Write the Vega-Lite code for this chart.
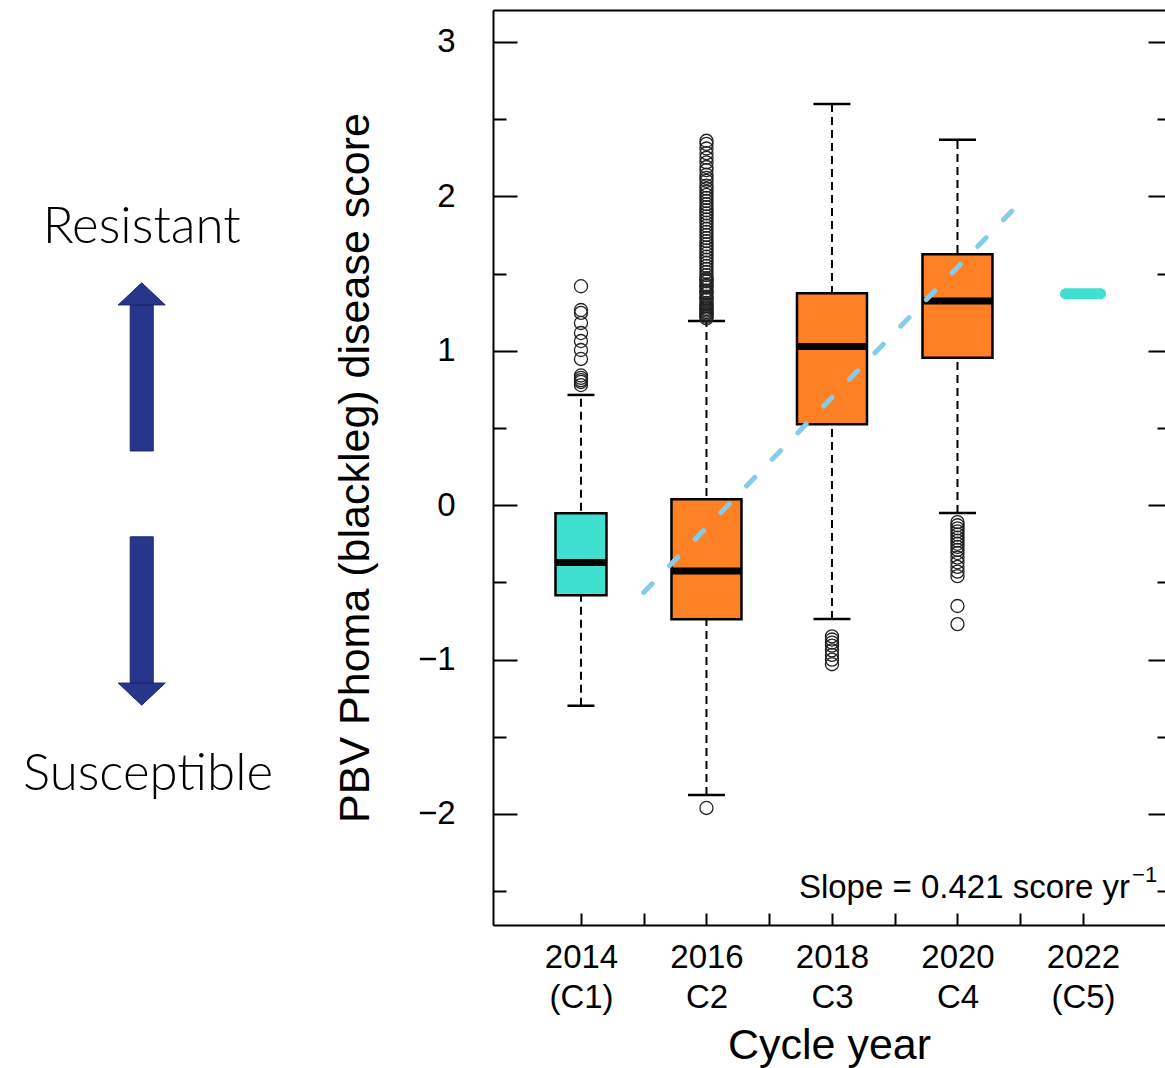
{
  "$schema": "https://vega.github.io/schema/vega-lite/v6.json",
  "width": 672,
  "height": 915,
  "autosize": {"type": "none"},
  "padding": {"left": 493, "top": 10, "right": 0, "bottom": 143},
  "background": "white",
  "config": {"font": "Liberation Sans", "view": {"stroke": null}, "scale": {"continuousPadding": 0}},
  "datasets": {
    "boxes": [
      {"year": 2014, "cycle": "(C1)", "group": "Reference", "lower": -1.299, "q1": -0.584, "median": -0.372, "q3": -0.052, "upper": 0.714},
      {"year": 2016, "cycle": "C2", "group": "Selection", "lower": -1.877, "q1": -0.739, "median": -0.427, "q3": 0.038, "upper": 1.193},
      {"year": 2018, "cycle": "C3", "group": "Selection", "lower": -0.737, "q1": 0.524, "median": 1.027, "q3": 1.372, "upper": 2.598},
      {"year": 2020, "cycle": "C4", "group": "Selection", "lower": -0.05, "q1": 0.955, "median": 1.322, "q3": 1.625, "upper": 2.367}
    ],
    "outliers": [
      {"year": 2014, "score": 1.418}, {"year": 2014, "score": 1.264}, {"year": 2014, "score": 1.245}, {"year": 2014, "score": 1.18},
      {"year": 2014, "score": 1.115}, {"year": 2014, "score": 1.063}, {"year": 2014, "score": 1.005}, {"year": 2014, "score": 0.947},
      {"year": 2014, "score": 0.84}, {"year": 2014, "score": 0.824}, {"year": 2014, "score": 0.81}, {"year": 2014, "score": 0.798}, {"year": 2014, "score": 0.778},
      {"year": 2016, "score": 2.36}, {"year": 2016, "score": 2.34}, {"year": 2016, "score": 2.31}, {"year": 2016, "score": 2.28},
      {"year": 2016, "score": 2.25}, {"year": 2016, "score": 2.22}, {"year": 2016, "score": 2.19}, {"year": 2016, "score": 2.17},
      {"year": 2016, "score": 2.14}, {"year": 2016, "score": 2.12}, {"year": 2016, "score": 2.1}, {"year": 2016, "score": 2.07},
      {"year": 2016, "score": 2.05}, {"year": 2016, "score": 2.03}, {"year": 2016, "score": 2.01}, {"year": 2016, "score": 1.99},
      {"year": 2016, "score": 1.97}, {"year": 2016, "score": 1.95}, {"year": 2016, "score": 1.93}, {"year": 2016, "score": 1.91},
      {"year": 2016, "score": 1.89}, {"year": 2016, "score": 1.87}, {"year": 2016, "score": 1.85}, {"year": 2016, "score": 1.83},
      {"year": 2016, "score": 1.81}, {"year": 2016, "score": 1.79}, {"year": 2016, "score": 1.77}, {"year": 2016, "score": 1.75},
      {"year": 2016, "score": 1.73}, {"year": 2016, "score": 1.71}, {"year": 2016, "score": 1.69}, {"year": 2016, "score": 1.67},
      {"year": 2016, "score": 1.65}, {"year": 2016, "score": 1.63}, {"year": 2016, "score": 1.61}, {"year": 2016, "score": 1.59},
      {"year": 2016, "score": 1.57}, {"year": 2016, "score": 1.55}, {"year": 2016, "score": 1.53}, {"year": 2016, "score": 1.51},
      {"year": 2016, "score": 1.49}, {"year": 2016, "score": 1.47}, {"year": 2016, "score": 1.45}, {"year": 2016, "score": 1.43},
      {"year": 2016, "score": 1.41}, {"year": 2016, "score": 1.39}, {"year": 2016, "score": 1.37}, {"year": 2016, "score": 1.35},
      {"year": 2016, "score": 1.33}, {"year": 2016, "score": 1.31}, {"year": 2016, "score": 1.29}, {"year": 2016, "score": 1.27},
      {"year": 2016, "score": 1.25}, {"year": 2016, "score": 1.23}, {"year": 2016, "score": 1.21}, {"year": 2016, "score": 1.22},
      {"year": 2016, "score": 1.24}, {"year": 2016, "score": 1.26}, {"year": 2016, "score": 1.28}, {"year": 2016, "score": 1.3},
      {"year": 2016, "score": 1.34}, {"year": 2016, "score": 1.38}, {"year": 2016, "score": 1.42}, {"year": 2016, "score": 1.46},
      {"year": 2016, "score": -1.961},
      {"year": 2018, "score": -0.85}, {"year": 2018, "score": -0.87}, {"year": 2018, "score": -0.89}, {"year": 2018, "score": -0.91},
      {"year": 2018, "score": -0.94}, {"year": 2018, "score": -0.97}, {"year": 2018, "score": -1.0}, {"year": 2018, "score": -1.03},
      {"year": 2020, "score": -0.11}, {"year": 2020, "score": -0.13}, {"year": 2020, "score": -0.15}, {"year": 2020, "score": -0.17},
      {"year": 2020, "score": -0.19}, {"year": 2020, "score": -0.21}, {"year": 2020, "score": -0.23}, {"year": 2020, "score": -0.25},
      {"year": 2020, "score": -0.27}, {"year": 2020, "score": -0.29}, {"year": 2020, "score": -0.31}, {"year": 2020, "score": -0.34},
      {"year": 2020, "score": -0.37}, {"year": 2020, "score": -0.4}, {"year": 2020, "score": -0.43}, {"year": 2020, "score": -0.46},
      {"year": 2020, "score": -0.653}, {"year": 2020, "score": -0.77}
    ],
    "trend": [
      {"year": 2015, "score": -0.565},
      {"year": 2021, "score": 1.961}
    ],
    "c5": [
      {"year": 2022, "cycle": "(C5)", "group": "Reference", "score": 1.37}
    ],
    "arrows": [
      {"dir": "up", "x": 2007, "base": 0.351, "head": 1.297},
      {"dir": "down", "x": 2007, "base": -0.205, "head": -1.152}
    ],
    "labels": [
      {"label": "Resistant", "x": 2007.0, "y": 1.795},
      {"label": "Susceptible", "x": 2007.1, "y": -1.747}
    ],
    "note": [
      {"text": "Slope = 0.421 score yr", "sup": "−1", "x": 2022.75, "y": -2.544}
    ]
  },
  "resolve": {"axis": {"x": "independent", "y": "independent"}},
  "layer": [
    {
      "data": {"name": "arrows"},
      "mark": {"type": "bar", "orient": "vertical", "color": "#27368A", "stroke": "#1B2670", "strokeWidth": 1, "opacity": 1},
      "encoding": {
        "x": {"field": "x", "type": "quantitative", "scale": {"domain": [2012.598, 2023.307], "nice": false, "zero": false, "padding": 0}, "axis": null},
        "y": {"field": "base", "type": "quantitative", "scale": {"domain": [-2.719, 3.207], "nice": false, "zero": false, "padding": 0}, "axis": null},
        "y2": {"field": "head"},
        "size": {"value": 23}
      }
    },
    {
      "data": {"name": "arrows"},
      "mark": {"type": "point", "filled": true, "color": "#27368A", "stroke": "#1B2670", "strokeWidth": 1, "opacity": 1},
      "encoding": {
        "x": {"field": "x", "type": "quantitative", "scale": {"domain": [2012.598, 2023.307], "nice": false, "zero": false, "padding": 0}, "axis": null},
        "y": {"field": "head", "type": "quantitative", "scale": {"domain": [-2.719, 3.207], "nice": false, "zero": false, "padding": 0}, "axis": null},
        "shape": {"field": "dir", "type": "nominal", "scale": {"domain": ["up", "down"], "range": ["M-1,0L1,0L0,-0.94Z", "M-1,0L1,0L0,0.94Z"]}, "legend": null},
        "size": {"value": 2209}
      }
    },
    {
      "data": {"name": "labels"},
      "mark": {"type": "text", "font": "Lato", "fontWeight": 300, "fontSize": 51, "color": "black", "align": "center", "baseline": "middle"},
      "encoding": {
        "x": {"field": "x", "type": "quantitative", "scale": {"domain": [2012.598, 2023.307], "nice": false, "zero": false, "padding": 0}, "axis": null},
        "y": {"field": "y", "type": "quantitative", "scale": {"domain": [-2.719, 3.207], "nice": false, "zero": false, "padding": 0}, "axis": null},
        "text": {"field": "label"}
      }
    },
    {
      "data": {"name": "boxes"},
      "mark": {"type": "rule", "strokeDash": [8, 5], "strokeWidth": 2, "color": "black", "opacity": 1},
      "encoding": {
        "x": {"field": "year", "type": "quantitative", "scale": {"domain": [2012.598, 2023.307], "nice": false, "zero": false, "padding": 0}, "axis": null},
        "y": {"field": "lower", "type": "quantitative", "scale": {"domain": [-2.719, 3.207], "nice": false, "zero": false, "padding": 0}, "axis": null},
        "y2": {"field": "upper"}
      }
    },
    {
      "data": {"name": "boxes"},
      "mark": {"type": "tick", "orient": "horizontal", "thickness": 2.5, "color": "black", "opacity": 1},
      "encoding": {
        "x": {"field": "year", "type": "quantitative", "scale": {"domain": [2012.598, 2023.307], "nice": false, "zero": false, "padding": 0}, "axis": null},
        "y": {"field": "lower", "type": "quantitative", "scale": {"domain": [-2.719, 3.207], "nice": false, "zero": false, "padding": 0}, "axis": null},
        "size": {"condition": {"test": "datum.year === 2014", "value": 27}, "value": 37}
      }
    },
    {
      "data": {"name": "boxes"},
      "mark": {"type": "tick", "orient": "horizontal", "thickness": 2.5, "color": "black", "opacity": 1},
      "encoding": {
        "x": {"field": "year", "type": "quantitative", "scale": {"domain": [2012.598, 2023.307], "nice": false, "zero": false, "padding": 0}, "axis": null},
        "y": {"field": "upper", "type": "quantitative", "scale": {"domain": [-2.719, 3.207], "nice": false, "zero": false, "padding": 0}, "axis": null},
        "size": {"condition": {"test": "datum.year === 2014", "value": 27}, "value": 37}
      }
    },
    {
      "data": {"name": "boxes"},
      "mark": {"type": "bar", "orient": "vertical", "stroke": "black", "strokeWidth": 2.5, "opacity": 1},
      "encoding": {
        "x": {
          "field": "year", "type": "quantitative",
          "scale": {"domain": [2012.598, 2023.307], "nice": false, "zero": false, "padding": 0},
          "axis": {
            "orient": "bottom",
            "values": [2014, 2015, 2016, 2017, 2018, 2019, 2020, 2021, 2022],
            "grid": false,
            "domain": true, "domainColor": "black", "domainWidth": 2,
            "ticks": true, "tickSize": -12, "tickWidth": 2, "tickColor": "black",
            "labelExpr": "datum.value === 2014 ? ['2014','(C1)'] : datum.value === 2016 ? ['2016','C2'] : datum.value === 2018 ? ['2018','C3'] : datum.value === 2020 ? ['2020','C4'] : datum.value === 2022 ? ['2022','(C5)'] : ''",
            "labelFont": "Liberation Sans", "labelFontSize": 33, "labelColor": "black",
            "labelLineHeight": 40, "labelPadding": 28, "labelFlush": false, "labelOverlap": false,
            "title": "Cycle year", "titleFont": "Liberation Sans", "titleFontSize": 43,
            "titleFontWeight": "normal", "titleColor": "black", "titlePadding": 10
          }
        },
        "y": {
          "field": "q1", "type": "quantitative",
          "scale": {"domain": [-2.719, 3.207], "nice": false, "zero": false, "padding": 0},
          "axis": {
            "orient": "left",
            "values": [-2.5, -2, -1.5, -1, -0.5, 0, 0.5, 1, 1.5, 2, 2.5, 3],
            "grid": false,
            "domain": true, "domainColor": "black", "domainWidth": 2,
            "ticks": true, "tickWidth": 2, "tickColor": "black",
            "tickSize": {"condition": {"test": "datum.value % 1 === 0", "value": -24}, "value": -13},
            "labelExpr": "datum.value % 1 === 0 ? format(datum.value, 'd') : ''",
            "labelFont": "Liberation Sans", "labelFontSize": 33, "labelColor": "black",
            "labelPadding": 62, "labelFlush": false, "labelOverlap": false,
            "title": "PBV Phoma (blackleg) disease score", "titleFont": "Liberation Sans",
            "titleFontSize": 43, "titleFontWeight": "normal", "titleColor": "black", "titlePadding": 40
          }
        },
        "y2": {"field": "q3"},
        "color": {"field": "group", "type": "nominal", "scale": {"domain": ["Reference", "Selection"], "range": ["#40E0D0", "#FD8024"]}, "legend": null},
        "size": {"condition": {"test": "datum.year === 2014", "value": 51}, "value": 70}
      }
    },
    {
      "data": {"name": "boxes"},
      "mark": {"type": "tick", "orient": "horizontal", "thickness": 7, "color": "black", "opacity": 1},
      "encoding": {
        "x": {"field": "year", "type": "quantitative", "scale": {"domain": [2012.598, 2023.307], "nice": false, "zero": false, "padding": 0}, "axis": null},
        "y": {"field": "median", "type": "quantitative", "scale": {"domain": [-2.719, 3.207], "nice": false, "zero": false, "padding": 0}, "axis": null},
        "size": {"condition": {"test": "datum.year === 2014", "value": 50}, "value": 69}
      }
    },
    {
      "data": {"name": "outliers"},
      "mark": {"type": "point", "shape": "circle", "filled": false, "size": 170, "stroke": "#222222", "strokeWidth": 1.3, "opacity": 1},
      "encoding": {
        "x": {"field": "year", "type": "quantitative", "scale": {"domain": [2012.598, 2023.307], "nice": false, "zero": false, "padding": 0}, "axis": null},
        "y": {"field": "score", "type": "quantitative", "scale": {"domain": [-2.719, 3.207], "nice": false, "zero": false, "padding": 0}, "axis": null}
      }
    },
    {
      "data": {"name": "trend"},
      "mark": {"type": "line", "color": "#86CBE8", "strokeWidth": 5, "strokeDash": [12, 25], "strokeCap": "round"},
      "encoding": {
        "x": {"field": "year", "type": "quantitative", "scale": {"domain": [2012.598, 2023.307], "nice": false, "zero": false, "padding": 0}, "axis": null},
        "y": {"field": "score", "type": "quantitative", "scale": {"domain": [-2.719, 3.207], "nice": false, "zero": false, "padding": 0}, "axis": null}
      }
    },
    {
      "data": {"name": "c5"},
      "mark": {"type": "tick", "orient": "horizontal", "thickness": 11, "cornerRadius": 5.5, "color": "#40E0D0", "opacity": 1},
      "encoding": {
        "x": {
          "field": "year", "type": "quantitative",
          "scale": {"domain": [2012.598, 2023.307], "nice": false, "zero": false, "padding": 0},
          "axis": {"orient": "top", "domain": true, "domainColor": "black", "domainWidth": 2, "ticks": false, "labels": false, "grid": false, "title": null}
        },
        "y": {
          "field": "score", "type": "quantitative",
          "scale": {"domain": [-2.719, 3.207], "nice": false, "zero": false, "padding": 0},
          "axis": {
            "orient": "right",
            "values": [-2.5, -2, -1.5, -1, -0.5, 0, 0.5, 1, 1.5, 2, 2.5, 3],
            "domain": false, "labels": false, "grid": false, "title": null,
            "ticks": true, "tickWidth": 2, "tickColor": "black",
            "tickSize": {"condition": {"test": "datum.value % 1 === 0", "value": -17}, "value": -8}
          }
        },
        "size": {"value": 46}
      }
    },
    {
      "data": {"name": "note"},
      "mark": {"type": "text", "font": "Liberation Sans", "fontSize": 33, "color": "black", "align": "right", "baseline": "alphabetic"},
      "encoding": {
        "x": {"field": "x", "type": "quantitative", "scale": {"domain": [2012.598, 2023.307], "nice": false, "zero": false, "padding": 0}, "axis": null},
        "y": {"field": "y", "type": "quantitative", "scale": {"domain": [-2.719, 3.207], "nice": false, "zero": false, "padding": 0}, "axis": null},
        "text": {"field": "text"}
      }
    },
    {
      "data": {"name": "note"},
      "mark": {"type": "text", "font": "Liberation Sans", "fontSize": 22, "color": "black", "align": "left", "baseline": "alphabetic", "dx": 2, "dy": -16},
      "encoding": {
        "x": {"field": "x", "type": "quantitative", "scale": {"domain": [2012.598, 2023.307], "nice": false, "zero": false, "padding": 0}, "axis": null},
        "y": {"field": "y", "type": "quantitative", "scale": {"domain": [-2.719, 3.207], "nice": false, "zero": false, "padding": 0}, "axis": null},
        "text": {"field": "sup"}
      }
    }
  ]
}
